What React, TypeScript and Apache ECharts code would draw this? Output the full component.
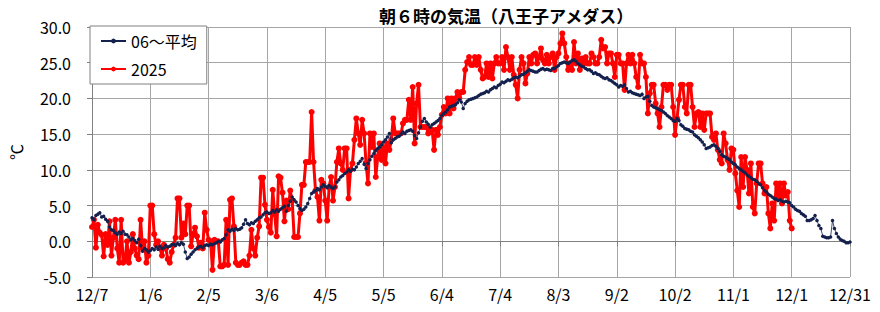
import React, { useEffect, useRef } from "react";
import * as echarts from "echarts";

const TITLE = "朝６時の気温（八王子アメダス）";
const Y_NAME = "℃";
const LEGEND_AVG = "06～平均";
const LEGEND_2025 = "2025";

// x tick labels, one every 30 days starting at 12/7
const TICK_LABELS = ["12/7", "1/6", "2/5", "3/6", "4/5", "5/5", "6/4", "7/4", "8/3", "9/2", "10/2", "11/1", "12/1", "12/31"];
const DAYS_PER_TICK = 30;

// daily average (06~), day 0 = 12/7 ... day 390 = 12/31
const AVG = [
  3.3, 3.0, 3.6, 3.8, 4.0, 3.4, 3.5, 3.1, 2.8, 2.0,
  1.6, 1.5, 1.2, 1.0, 1.3, 1.1, 1.4, 1.0, 0.9, 0.6,
  0.2, 0.4, 0.1, -0.2, 0.3, -0.6, -1.4, -1.0, -1.2, -1.5,
  -1.3, -1.0, -1.2, -0.8, -1.1, -0.7, -1.0, -0.9, -0.6, -0.8,
  -0.7, -0.5, -0.4, -0.6, -0.3, -0.5, -0.2, -0.4, -1.5, -2.4,
  -2.2, -1.8, -1.5, -1.2, -1.0, -0.8, -0.7, -0.9, -0.6, -0.5,
  -0.6, -0.4, -0.5, -0.3, -0.2, 0.0, -0.1, 0.2, 0.4, 0.9,
  1.6, 1.4, 1.7, 1.5, 1.8, 1.6, 1.7, 1.9, 2.4, 3.0,
  2.5, 2.3, 2.6, 2.5, 2.8, 3.0, 3.3, 3.4, 3.7, 4.0,
  4.1, 3.9, 4.0, 4.3, 4.1, 4.4, 4.2, 4.5, 4.7, 4.9,
  4.2, 5.0, 5.6, 6.2, 5.8, 5.5, 5.0, 4.6, 4.3, 4.5,
  4.8, 5.3, 6.0, 6.7, 6.9, 7.1, 7.4, 7.2, 7.6, 7.9,
  7.7, 7.5, 7.8, 7.6, 7.4, 7.6, 8.3, 8.6, 9.0, 9.2,
  9.5, 9.7, 10.0, 9.8, 10.1, 10.0, 10.4, 10.9, 11.2, 11.6,
  10.8, 10.2, 10.9, 11.4, 11.9, 12.3, 12.7, 13.0, 13.2, 13.5,
  13.9, 14.2, 14.6, 15.1, 13.8, 14.2, 14.4, 14.6, 14.7, 15.0,
  15.3, 15.1, 15.4, 15.5, 15.6, 15.4, 14.8, 14.4, 15.2, 16.0,
  16.8, 17.2, 16.7, 16.4, 16.0, 16.3, 16.5, 16.7, 16.9, 17.2,
  17.6, 17.9, 18.1, 18.4, 18.8, 18.9, 19.0, 19.1, 19.4, 19.8,
  19.5, 18.6, 19.3, 19.6, 19.8, 19.9, 20.0, 20.1, 20.2, 20.4,
  20.6, 20.7, 20.8, 21.0, 20.9, 21.2, 21.4, 21.6, 21.5, 21.8,
  22.0, 22.3, 22.2, 22.4, 22.6, 22.5, 22.7, 22.9, 23.0, 22.9,
  23.1, 23.3, 23.4, 23.6, 23.8, 24.0, 23.9, 23.8, 23.7, 23.7,
  23.9, 24.1, 24.2, 24.0, 24.1, 24.0, 23.9, 24.2, 24.2, 24.4,
  24.6, 24.9, 25.0, 25.1, 25.0, 24.9, 25.1, 25.3, 25.4, 25.2,
  24.9, 24.7, 24.5, 24.4, 24.2, 24.0, 24.0, 23.8, 23.5, 23.6,
  23.4, 23.3, 23.1, 22.9, 22.8, 22.9, 22.6, 22.5, 22.3, 22.1,
  21.9, 21.6, 21.8, 21.7, 21.9, 21.4, 20.9, 21.0, 20.8, 20.7,
  20.6, 20.5, 20.4, 20.6, 20.0, 20.2, 20.3, 19.6, 19.0, 18.8,
  18.7, 18.6, 18.4, 18.3, 18.1, 17.9, 17.6, 17.4, 17.2, 16.9,
  16.8, 17.2, 16.9, 16.3, 16.1, 15.8, 15.7, 15.6, 15.4, 15.3,
  14.9, 14.7, 14.5, 14.2, 13.9, 13.5, 13.0, 13.1, 13.2, 13.4,
  13.5, 13.3, 13.0, 12.6, 12.1, 11.9, 11.8, 11.6, 11.4, 11.1,
  10.9, 10.7, 10.4, 10.2, 10.0, 9.8, 9.6, 9.3, 9.1, 8.9,
  8.7, 8.6, 8.4, 8.1, 7.9, 7.5, 7.1, 6.9, 6.6, 6.4,
  6.2, 6.0, 5.9, 5.7, 5.8, 5.6, 5.5, 5.6, 5.5, 5.4,
  5.0, 4.8, 4.5, 4.3, 4.2, 3.9, 3.7, 3.5, 2.9, 2.9,
  3.0, 3.2, 3.6, 2.9, 2.2, 1.8, 0.7, 0.6, 0.5, 0.5,
  0.6, 2.9, 1.8, 1.1, 0.6, 0.3, 0.1, 0.0, -0.2, -0.2, -0.1,
];

// 2025 values, day 0 = 12/7 ... day 360 = 12/1
const Y2025 = [
  2.0, 3.0, -0.9, 2.3, 1.2, 0.9, -2.1, 1.0, -0.5, 2.8,
  -2.0, 0.5, 3.0, -1.0, -3.0, 3.0, -3.0, -2.5, 0.0, -3.0,
  -1.5, 1.0, -1.0, -2.0, -2.5, 3.0, -1.0, 0.0, -3.0, -2.0,
  5.0, 5.0, 1.0, -0.5, 0.0, -1.0, -2.0, -0.5, -1.0, -2.5,
  -3.0, -1.5, -0.5, 0.5, 6.0, 6.0, 0.5, 2.5, 1.0, 5.0,
  5.0, -0.7, 1.0, 1.9, 0.7, -0.9, -0.2, -1.0, 4.0, 1.6,
  0.2, 0.0, -4.0, 0.2, 0.0, 0.0, -3.5, -3.5, -3.3, 3.0,
  -3.3, 5.8, 6.0, 2.1, -3.0, -3.3, -3.3, -3.0, -2.8, -3.3,
  -3.3, -2.0, 1.6, -1.0, -2.0, 0.5, 2.1, 8.9, 8.9, 5.1,
  3.0, 2.0, 1.2, 7.2, 3.8, 0.7, 9.1, 8.9, 6.8, 2.8,
  5.7, 4.5, 7.1, 5.7, 0.6, 0.6, 0.6, 3.9, 7.9, 7.9,
  11.1, 11.1, 11.1, 18.1, 11.1, 7.1, 6.2, 2.9, 8.6, 8.1,
  5.7, 2.9, 7.6, 9.0, 5.7, 7.6, 11.1, 13.0, 10.9, 10.0,
  13.0, 13.0, 6.0, 10.0, 10.9, 14.2, 17.2, 15.1, 13.5, 17.0,
  15.1, 10.9, 8.1, 15.1, 13.2, 15.1, 9.0, 11.8, 13.7, 11.4,
  13.2, 10.9, 13.7, 12.8, 14.2, 17.2, 15.1, 15.1, 15.1, 15.1,
  16.5, 17.0, 17.0, 19.8, 17.0, 21.6, 13.7, 19.3, 21.9, 16.0,
  16.0, 16.0, 16.0, 15.1, 15.6, 15.6, 12.8, 15.6, 14.9, 16.0,
  17.7, 18.8, 17.9, 20.0, 17.9, 20.0, 18.6, 20.0, 20.9, 20.0,
  20.9, 20.9, 24.0, 25.1, 25.8, 24.7, 24.7, 25.8, 24.7, 25.8,
  24.0, 22.8, 23.0, 24.9, 23.0, 24.9, 22.8, 24.9, 25.8, 24.9,
  24.9, 25.8, 24.0, 27.2, 25.8, 24.0, 25.8, 23.3, 21.9, 20.0,
  24.0, 25.8, 24.9, 22.1, 23.5, 25.8, 24.9, 26.1, 26.3, 24.9,
  25.8, 27.0, 25.4, 24.9, 26.1, 24.9, 25.8, 26.3, 24.0, 25.8,
  26.3, 27.7, 29.1, 27.7, 25.8, 24.0, 24.9, 24.0, 27.9, 24.9,
  26.3, 24.0, 25.6, 24.9, 25.8, 24.9, 24.9, 26.3, 25.8, 24.9,
  24.9, 25.8, 28.2, 27.0, 27.2, 24.9, 26.3, 26.3, 24.9, 23.0,
  26.1, 26.1, 24.9, 24.9, 21.2, 24.9, 26.1, 24.9, 26.1, 24.9,
  23.0, 21.6, 26.1, 24.9, 24.9, 23.0, 17.9, 20.7, 21.9, 21.9,
  19.3, 17.9, 16.0, 18.8, 21.9, 21.9, 21.2, 21.9, 21.9, 18.8,
  14.9, 17.2, 19.8, 21.9, 21.9, 18.8, 17.9, 21.9, 21.9, 18.8,
  16.0, 17.9, 18.1, 16.0, 17.9, 15.6, 17.9, 17.9, 17.9, 14.6,
  14.2, 15.1, 12.8, 11.4, 10.9, 15.1, 13.7, 11.4, 10.0, 13.0,
  12.8, 9.5, 7.1, 4.8, 11.8, 7.6, 11.8, 10.0, 6.7, 10.9,
  4.8, 3.9, 8.1, 10.9, 10.9, 8.1, 6.7, 7.6, 3.9, 1.8,
  5.3, 2.9, 8.1, 6.2, 8.1, 5.3, 8.1, 6.4, 6.9, 2.9,
  1.8,
];

const FONT = "'Noto Sans CJK JP', 'Noto Sans', sans-serif";

export default function App() {
  const ref = useRef<HTMLDivElement>(null);

  useEffect(() => {
    if (!ref.current) return;
    const chart = echarts.init(ref.current, null, { renderer: "svg" });
    const maxX = DAYS_PER_TICK * (TICK_LABELS.length - 1);
    const option = {
      animation: false,
      backgroundColor: "#ffffff",
      textStyle: { fontFamily: FONT },
      title: {
        text: TITLE,
        left: 379,
        top: 7,
        padding: 0,
        textStyle: { fontSize: 17, fontWeight: "bold", color: "#000", fontFamily: FONT },
      },
      legend: {
        orient: "vertical",
        left: 90,
        top: 26,
        padding: [6, 10, 6, 10],
        itemGap: 10,
        itemWidth: 25,
        itemHeight: 6,
        backgroundColor: "#ffffff",
        borderColor: "#808080",
        borderWidth: 1,
        borderRadius: 0,
        data: [LEGEND_AVG, LEGEND_2025],
        textStyle: { fontSize: 16, color: "#000", fontFamily: FONT, lineHeight: 18 },
      },
      grid: { left: 85, right: 30, top: 27, bottom: 35 },
      xAxis: {
        type: "value",
        min: 0,
        max: maxX,
        interval: DAYS_PER_TICK,
        axisLine: { show: true, lineStyle: { color: "#808080", width: 1 } },
        axisTick: { show: true, length: 5, lineStyle: { color: "#808080" } },
        splitLine: { show: true, lineStyle: { color: "#a6a6a6", width: 1 } },
        axisLabel: {
          formatter: (v: number) => TICK_LABELS[Math.round(v / DAYS_PER_TICK)] ?? "",
          fontSize: 16,
          color: "#000",
          margin: 9,
          fontFamily: FONT,
        },
      },
      yAxis: {
        type: "value",
        min: -5,
        max: 30,
        interval: 5,
        name: Y_NAME,
        nameLocation: "middle",
        nameGap: 68,
        nameRotate: 90,
        nameTextStyle: { fontSize: 16, color: "#000", fontFamily: FONT },
        axisLine: { show: true, lineStyle: { color: "#808080", width: 1 } },
        axisTick: { show: true, length: 5, lineStyle: { color: "#808080" } },
        splitLine: { show: true, lineStyle: { color: "#a6a6a6", width: 1 } },
        axisLabel: {
          formatter: (v: number) => v.toFixed(1),
          fontSize: 16,
          color: "#000",
          margin: 21,
          fontFamily: FONT,
        },
      },
      series: [
        {
          name: LEGEND_2025,
          type: "line",
          data: Y2025.map((v, i) => [i, v]),
          symbol: "circle",
          symbolSize: 6,
          itemStyle: { color: "#ff0000" },
          lineStyle: { color: "#ff0000", width: 3 },
          z: 2,
        },
        {
          name: LEGEND_AVG,
          type: "line",
          data: AVG.map((v, i) => [i, v]),
          symbol: "circle",
          symbolSize: 3.5,
          itemStyle: { color: "#14204d" },
          lineStyle: { color: "#14204d", width: 0.8 },
          z: 3,
        },
      ],
    };
    chart.setOption(option as any);
    return () => chart.dispose();
  }, []);

  return (
    <div
      ref={ref}
      style={{ position: "fixed", left: 0, top: 0, width: 880, height: 312 }}
    />
  );
}
